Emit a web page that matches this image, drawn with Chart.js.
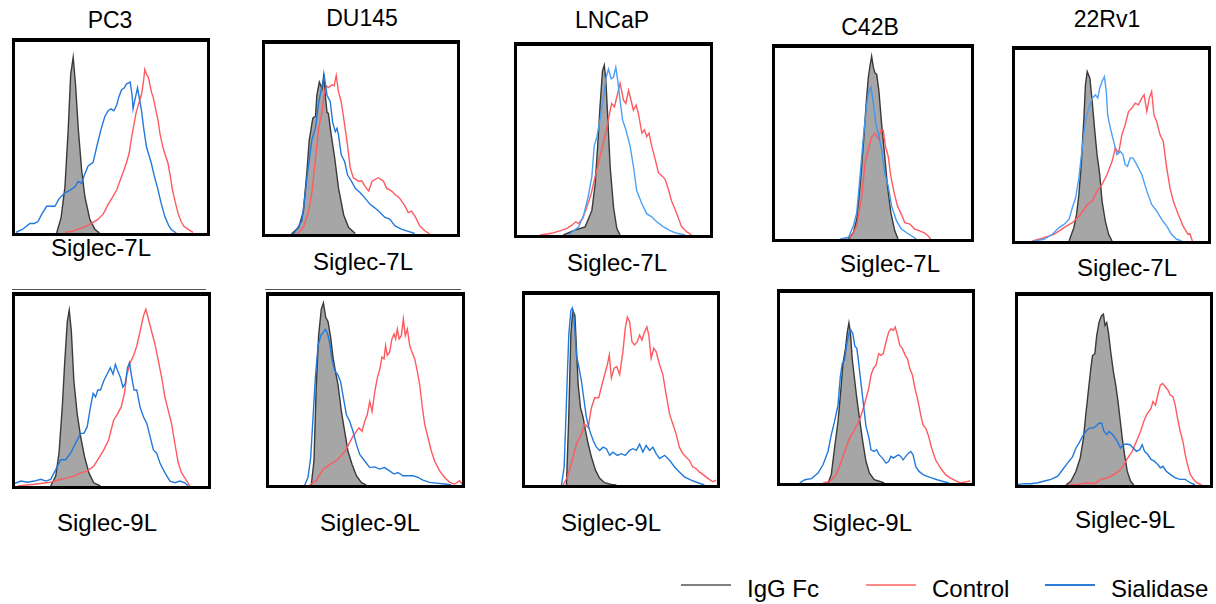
<!DOCTYPE html>
<html>
<head>
<meta charset="utf-8">
<script src="https://cdn.jsdelivr.net/npm/chart.js@4"></script>
<style>
  body { margin: 0; background: #fff; font-family: "Liberation Sans", Arial, sans-serif; }
  #page { position: relative; width: 1216px; height: 604px; overflow: hidden; }
  .box { position: absolute; border: 3px solid #000; border-top-width: 4px; box-sizing: border-box; background: #fff; }
  .box canvas { display: block; }
  .txt { position: absolute; transform: translate(-50%, -50%); white-space: nowrap; color: #000; }
  .title { font-size: 23px; }
  .lab { font-size: 24px; }
  .rule { position: absolute; height: 1px; background: #555; }
  .legline { position: absolute; height: 2px; }
  .legtxt { position: absolute; font-size: 24px; transform: translateY(-50%); }
</style>
</head>
<body>
<div id="page"></div>
<script>
// fluorescence (x, 0-100) / count (y, % of max) pairs
// ---- Siglec-7L row ----
const pc3_7L_igg = [[21.7,0],[24,8],[26,24],[27.7,54],[29,83],[30.3,92],[31.5,78],[33,54],[34.7,33],[36.4,19],[39,7],[41.6,2],[44,0]];
const pc3_7L_ctrl = [[26,0.3],[30,1],[34.7,2.6],[38,4],[43,7],[46,10],[48.5,15],[51,19],[53,22.6],[55.5,29.6],[58,36.5],[59.5,42],[60.7,50],[62,57],[63,62.6],[64.5,68],[66,73],[67,80],[67.6,85.6],[68.5,83],[69.3,82],[70,79],[71,74],[72,71],[73,66],[74.5,59],[75.5,52],[77,45],[78.5,40],[79.7,36.5],[81,29],[82,22.6],[83.5,16],[85,10],[86.5,6],[88,3.5],[90,2],[92.7,0.3]];
const pc3_7L_sial = [[0.5,0.3],[4,2],[7.8,5],[10,5],[12,6],[14,10],[16.5,14],[18,14],[20.8,14],[23,18],[26,21],[28,22],[31,24],[33,27],[34.7,26],[36,30],[38,35],[40.7,37],[43,47],[45,55],[46.8,61],[48.5,64],[50,65],[51.5,64],[53,67],[54,71],[55.5,75],[57,76],[58,78],[60,79],[61,72],[61.5,65],[62.5,70],[63.8,76],[64.5,72],[65.9,64],[67,55],[68.5,45],[71,36.5],[72.5,30],[74.5,22.6],[76,16],[78,8.7],[80,4],[81.5,1.7],[84,0]];

const du145_7L_igg = [[13.8,0],[17.6,3.5],[20,12],[22,35],[23,49],[24.9,61],[26.3,62],[27,73],[28.3,80],[29.7,76.5],[30.6,83.5],[31.4,73],[32.3,64],[33,63.5],[34.5,52],[36.3,40],[38.3,24],[41,10],[43.5,3.5],[47,0.3]];
const du145_7L_ctrl = [[16.8,0],[20,3.5],[22.8,12],[24.5,22.6],[26.3,40],[28,56],[29.7,64.3],[31,74.8],[31.9,78],[33,77],[34.9,78.5],[36,78],[37.1,83.5],[38.3,74.8],[39.7,69.6],[41,60.8],[42.7,48.7],[44.4,34.8],[46,29.6],[48.7,27.8],[50.4,28],[52,25.2],[54,22.6],[55.8,27.8],[59,29.6],[61.7,27.8],[63.4,24],[66,22.6],[67.7,20.8],[70,19],[72.9,14.8],[74.6,11.3],[76.3,12],[78,9.6],[80.6,4.3],[83.2,1.7],[85.8,0]];
const du145_7L_sial = [[15,0],[19.3,7],[22,31],[24.5,50],[26.3,56],[28,69.6],[29.7,78],[30.9,83],[32.3,73],[34,69.6],[35.2,59],[36.6,53.9],[37.5,55.6],[38.3,52],[39.7,41.7],[41.5,38],[43,31],[45,27.8],[47,24],[49.6,21.7],[52,19],[54.7,15.6],[57,13.9],[59.9,11.3],[62.5,8.7],[65,7.8],[67.7,4.3],[71,2.6],[74.6,1.4],[78,0.3]];

const lncap_7L_igg = [[24,0],[30,2.6],[35.3,4.3],[38.8,13],[40.5,27],[41.9,48.7],[43,67.8],[44.3,86.9],[45.2,89.9],[46,82.6],[47,62.6],[48.3,35.6],[50,14.8],[51.7,3.5],[53.4,0]];
const lncap_7L_ctrl = [[12,0],[18,0.9],[23.3,2.6],[25.9,3.5],[28.4,5.2],[30.5,7],[31.9,6],[34,8.7],[36.2,14.8],[38.4,21.7],[40.5,31],[43.1,41.7],[44.8,48.7],[46.6,57.4],[48.3,66],[49.1,69.6],[50.5,67.8],[51.7,73],[53.4,80.3],[55.2,71.3],[56.4,69.6],[57.8,76.5],[59.1,71.3],[60.3,66],[61.7,68.7],[62.9,64.3],[64.7,53.9],[66,55.7],[67.2,52],[68.4,53.9],[69.8,47],[71.6,40],[73.3,33],[75,31.3],[76.7,29.6],[78.4,24.3],[80,18.3],[82.8,11.3],[85.3,4.3],[87.9,1.7],[90.5,0]];
const lncap_7L_sial = [[26.7,0],[32,4.3],[34.5,10.4],[37,20.9],[38.8,31],[40,47],[41.4,52],[43,60.9],[44.8,73],[46.2,83.5],[47.4,87.8],[48.8,82.6],[50,83.5],[51.2,88.7],[52.2,81.7],[53.4,71.3],[54.7,60.9],[56.4,55.7],[58.6,47],[60.3,36.5],[62,23.5],[64.7,16.5],[67.2,11.3],[69.8,9.6],[72.4,7],[75.9,4.3],[79.3,2.3],[82.8,0.9],[87,0]];

const c42b_7L_igg = [[37.5,0],[40,3.4],[41.7,10.3],[43.4,27.6],[45.1,50],[46.5,70.7],[47.6,84.5],[48.6,91.4],[49.3,95.7],[50.2,89.7],[51,87],[51.9,86.2],[53,77.6],[54.4,60.3],[55.7,46.6],[57.4,27.6],[59.1,13.8],[61.1,4.3],[62.8,0]];
const c42b_7L_ctrl = [[35.8,0],[39.2,1.7],[41.7,6.9],[44.3,22.4],[45.9,39.7],[47.6,46.6],[49.3,53.4],[51,55.2],[52.7,52.6],[54,56.9],[55.2,56.9],[56.4,48.3],[57.8,43.1],[59.1,32.8],[60.8,24.1],[62.5,17.2],[64.5,12.9],[66.2,8.6],[68.8,7.8],[71.3,5.2],[73.8,4.3],[76.4,3.1],[78,1.7],[79.4,0]];
const c42b_7L_sial = [[33.3,0],[37.5,0.9],[40,6.9],[41.7,13.8],[43.4,32.8],[45.1,53.4],[46.8,70.7],[47.9,77.6],[49,79.3],[50.2,70.7],[51.5,60.3],[52.7,55.2],[54.4,46.6],[56,34.5],[57.8,27.6],[59.5,17.2],[62,9.5],[64.5,5.2],[67,3.4],[69.6,1.7],[72.1,0]];

const rv1_7L_igg = [[28,0],[30.5,7],[31.9,13.9],[33.1,24.3],[34.3,40],[35.7,64.3],[36.5,81.7],[37.4,88.7],[38.8,85.2],[40,73],[41.2,59.1],[42.5,45.2],[43.9,34.8],[45.1,20.9],[46.8,10.4],[48.5,3.5],[50.3,0]];
const rv1_7L_ctrl = [[9,0],[15.1,1.7],[20.2,3.5],[25.4,7],[29.7,9.6],[34,13.9],[37.4,19.1],[40,20.9],[42.5,26.1],[45.1,29.6],[47.7,34.8],[50.3,41.7],[52,48.7],[53.7,46.1],[55.4,55.7],[57.1,60.9],[58.8,67.8],[60.6,69.6],[62.3,72.2],[64,71.3],[65.7,74.8],[66.9,76.5],[68.3,67.8],[69.6,74.8],[70.8,78.3],[72,66],[73.4,62.6],[75.1,55.7],[76.8,52.2],[78.6,38.3],[80.3,27.8],[82,20.9],[84.6,13.9],[87.1,7.8],[89.7,3.5],[90.6,3.8],[91.9,0]];
const rv1_7L_sial = [[10,0],[15,0.9],[19.4,3.5],[22.8,7],[25.4,8.7],[28,11.3],[29.7,17.4],[31.4,22.6],[33.1,33],[34.8,48.7],[36.5,62.6],[38.2,69.6],[40,74.8],[41.7,76.5],[42.9,74.8],[43.9,80],[45.1,83.5],[46.3,86],[47.3,78.3],[48,66],[49.4,59.1],[51.1,52.2],[52.8,45.2],[54.5,47],[55.9,45.2],[57.1,40],[58.3,39.1],[59.7,43.5],[61.1,43.5],[63.1,40],[65.7,34.8],[68.3,26.1],[70.8,19.1],[73.4,15.7],[76,11.3],[78.6,7.8],[81.1,3.5],[83.7,0.9],[86.3,0]];

// ---- Siglec-9L row ----
const pc3_9L_igg = [[18.5,0],[21.1,5.2],[22.8,17.3],[24.5,41.5],[25.7,64],[27.1,86.5],[28.1,92.6],[29.2,81.3],[30.5,55.4],[32.2,38.1],[34,26],[36,15.6],[38.3,6.9],[40.8,1.7],[44.3,0]];
const pc3_9L_ctrl = [[1.4,0],[10,0.9],[18.5,2],[23.7,3.5],[27.1,4.3],[30.5,5.2],[34,6.9],[37.4,7.8],[40.8,10.4],[43.4,14.7],[46,19],[48.5,24.2],[51.1,34.6],[53.2,38.1],[55,41.5],[56.7,48.8],[58,58.8],[59.7,64.9],[61.4,68.5],[63.1,73.7],[64.8,81.3],[66.6,89.6],[67.8,93.1],[69.1,88],[70.8,81.3],[72.6,74.3],[74.3,65.7],[76,57.1],[77.7,46.7],[79.4,39.8],[81.1,32.9],[82.8,22.5],[84.6,12.1],[86.3,6.9],[88.5,3.5],[90.6,0]];
const pc3_9L_sial = [[0,1.4],[3.1,2.6],[6.5,2],[10,2.6],[13.4,3.5],[16,2.6],[18.5,3.5],[20.2,6.9],[22,10.4],[23.7,13.8],[26.2,13.8],[28.8,17.3],[31.4,22.5],[34,27.7],[35.7,27.7],[37.4,31.1],[39.1,41.5],[40.5,48.8],[41.7,46.9],[42.9,50.5],[44.3,50.5],[46,55.4],[47.7,58.8],[49.4,62.3],[50.8,58.8],[52,64],[53.2,60.6],[54.6,57.1],[55.9,52.1],[57.1,53.8],[58.3,62.3],[59.3,64.9],[60.5,57.1],[61.7,50.5],[63.1,50.5],[64.8,41.5],[66.6,36.3],[68.3,32.9],[70,26],[71.7,19],[73.4,17.3],[75.1,12.1],[77.7,6.9],[80.3,2.6],[82.8,1.7],[85.4,2.6],[88,1.7],[89.7,0]];

const du145_9L_igg = [[21.9,0],[23.3,12.7],[24.5,52.9],[25.7,79],[27.1,93],[28.2,96.3],[29.4,88.7],[30.6,86.4],[32,77.7],[33.2,67.2],[34.4,60.2],[35.8,52.9],[37.5,38.9],[39.2,28.4],[40.9,18],[43,11],[45.3,4.9],[47.8,1.4],[50.4,0]];
const du145_9L_ctrl = [[21,0],[24.5,2.3],[28,8.4],[30.6,10.1],[33.2,11.9],[35.8,13.6],[37.8,16.2],[39.6,18],[41.3,21.5],[43.5,25.8],[45.3,28.4],[46.6,30.2],[48.2,28.4],[49.6,33.7],[50.9,37.2],[52.2,44.2],[53.4,38.9],[54.8,49.4],[56.1,56.4],[57.5,61.6],[58.5,67.7],[59.6,66.7],[60.4,73.8],[61.3,68.6],[62.5,70.3],[63.7,77.3],[64.8,79.9],[65.6,77.3],[66.5,82.5],[67.4,77.3],[68.6,79],[69.6,87.8],[70.6,79],[71.7,82.5],[72.9,73.8],[74.1,70.3],[75.5,66.7],[76.9,59.9],[78.1,52.9],[79.5,40.7],[80.7,31.9],[82.4,25],[84.1,18],[85.8,12.7],[88.4,7.5],[91,4],[93.6,1.4],[96.2,0.5],[98.8,2.3],[100,0.5]];
const du145_9L_sial = [[18.5,0],[20.2,4],[21.6,14.5],[22.8,35.4],[24,56.4],[25.4,73.8],[26.8,79],[28,80.6],[29.2,82.4],[30.2,80.6],[31.4,75.4],[32.6,66.7],[34,60.6],[35.8,58.1],[37.1,54.6],[38.3,47.6],[40.1,37.2],[41.8,33.7],[43.5,28.4],[45.3,21.5],[47,16.2],[49.6,12.7],[52.2,9.2],[54.8,9.6],[57.3,8.4],[59.9,9.2],[62.5,7.5],[64.8,5.8],[66.8,6.6],[69.4,4.9],[72,4.9],[74.6,4.9],[77.2,4],[79.8,2.6],[83.2,1.4],[86.7,1],[91,0.5],[94.5,0]];

const lncap_9L_igg = [[21.6,0],[22.8,36.4],[23.9,79.7],[24.9,91.9],[26,89.3],[26.8,71.6],[27.7,52.9],[28.9,40.7],[30.3,35.5],[31.5,28.6],[32.9,21.7],[34.6,14.7],[36.7,7.8],[38.9,3.5],[41.5,1.2],[45,0.3],[47.6,0]];
const lncap_9L_ctrl = [[19.9,0],[22.1,4.3],[24.2,11.3],[26.8,21.7],[29.4,26.9],[31.1,32.1],[32.9,30.3],[34.6,40.7],[36.3,45.9],[38.4,45.9],[40.1,52.9],[41.5,58.1],[42.9,63.3],[43.9,68.5],[45,56.3],[46.4,61.5],[47.8,62.4],[49.3,58.1],[51,70.2],[52.2,82.3],[53.3,88.4],[54.5,85.8],[55.7,75.4],[57.1,73.7],[58.5,75.4],[59.7,78.9],[60.9,76.3],[62.3,80.6],[63.5,83.2],[64.5,78.9],[65.7,66.7],[67.1,72],[68.3,70.2],[70.1,63.3],[71.8,58.1],[73.5,47.7],[75.3,37.3],[77,32.1],[78.7,26.9],[80.4,19.9],[82.2,16.5],[83.9,14.7],[85.6,13],[87.4,9.5],[89.1,8.7],[90.8,6.9],[93.1,5.2],[95.2,3.5],[97.8,1.7],[99.5,2.6]];
const lncap_9L_sial = [[19,0],[20.4,9.5],[21.6,44.2],[22.8,78.9],[23.9,91.9],[24.7,93.2],[25.6,87.5],[26.8,68.1],[28,62.4],[29.4,54.6],[30.8,44.2],[32,35.5],[33.7,28.6],[35.5,23.4],[37.2,19.9],[38.9,18.2],[40.7,19.9],[42.4,19.1],[44.1,15.6],[45.8,17.3],[48.1,15.6],[50.2,16.5],[52.2,15.6],[54.5,18.2],[56.2,19.1],[58,18.2],[59.7,21.5],[61.4,17.3],[63.1,20.8],[64.9,18.2],[66.6,19.9],[68.3,16.5],[70.1,13.9],[72.7,15.6],[75.3,13],[77.9,9.5],[80.4,6.9],[83,4.3],[86.5,2.6],[90,1.2],[93.4,0]];

const c42b_9L_igg = [[25,0],[26.7,4.4],[28.4,18.3],[30.2,32.3],[31.6,48],[32.8,62.8],[34.1,70.7],[35,79],[35.9,84.3],[36.7,79],[37.6,65.4],[38.8,55],[40,44.5],[41.4,34],[43.1,21.8],[44.8,11.3],[46.6,5.2],[49.1,1.7],[51.7,0.9],[54.3,0]];
const c42b_9L_ctrl = [[22.4,0],[25.9,0.9],[29.3,4.4],[31.9,11.3],[34.1,17.5],[36.2,23.6],[38.3,27.1],[40,30.5],[41.7,34],[43.4,39.3],[44.8,44.5],[46.2,49.7],[47.4,56.7],[48.6,60.2],[50,62],[51.4,68.1],[52.6,67.2],[53.8,68.1],[55.2,74.2],[56.6,79.4],[57.8,81.2],[59,80.3],[60,82.1],[61.2,77.7],[62.4,72.4],[63.8,70.7],[65.2,67.2],[66.4,65.4],[67.6,60.2],[69,56.7],[70.3,49.7],[71.6,44.5],[73.3,35.8],[74.5,30.5],[75.9,28.8],[77.2,25.3],[79,18.3],[81,12.2],[83.6,7.9],[86.2,4.4],[88.8,2.6],[91.4,1.2],[94,0],[96.6,0.5],[99.1,1.2]];
const c42b_9L_sial = [[10.3,0],[12.9,1.7],[16.4,2.3],[19.8,5.2],[22.4,9.6],[25,16.6],[26.7,25.3],[28.4,32.3],[30.2,41],[31.4,55.8],[32.4,62.8],[33.6,64.6],[34.8,73.3],[35.9,78.7],[36.9,80.5],[37.9,78.7],[39,71.9],[40,71],[41,63.1],[42.2,52.4],[43.4,41.9],[44.8,29.7],[46.2,24.4],[47.4,17.5],[49.1,16.6],[50.3,17.5],[51.7,14.8],[53.4,13.1],[55.2,10.5],[56.6,11.3],[57.8,14],[59,13.1],[60.3,14],[61.7,14.8],[62.9,14],[64.1,12.2],[65.5,14],[66.9,15.7],[68.1,16.6],[69.3,14.8],[70.7,8.7],[72.4,6.1],[74.5,4.4],[76.7,3.5],[79.3,2.6],[81.9,1.7],[84.5,0.9],[87.9,0]];

const rv1_9L_igg = [[25,0],[27.6,2.1],[30.2,7.3],[32.4,14.3],[34.1,24.8],[35.3,37.1],[36.6,49.3],[37.9,61.5],[38.8,68.5],[40,69.4],[41,79],[42.2,86],[43.4,89.5],[44.5,90.4],[45.3,84.4],[46.2,86],[47.1,80.8],[48.3,70.3],[49.7,59.8],[50.9,52.8],[52.1,44.1],[53.1,35.3],[54.3,24.8],[55.5,16.1],[56.9,7.3],[58.6,2.1],[60.3,0]];
const rv1_9L_ctrl = [[25.9,0],[31,0.3],[36.2,1.2],[39.7,0.7],[43.1,3],[46.6,3.8],[50,5.6],[52.6,7.3],[55.2,10.8],[57.2,14.3],[59.5,17.8],[61.7,23.1],[63.8,28.3],[65.5,33.6],[66.9,37.1],[68.1,38.8],[69.3,40.6],[70.3,44.1],[71.6,42.3],[72.8,47.6],[74.1,52.8],[75.3,53.7],[76.7,52],[78.1,50.2],[79.3,47.6],[80.7,46.7],[81.9,42.3],[83.1,35.3],[84.5,28.3],[85.9,23.1],[87.1,16.1],[88.3,10.8],[89.7,5.6],[91.4,3],[93.1,1.2],[95.7,0]];
const rv1_9L_sial = [[0,0.3],[3.4,0.7],[6.9,0.7],[10.3,1.2],[13.8,2.1],[17.2,3],[20.7,4.7],[23.3,8.2],[25.9,11.7],[28.4,14.9],[30.2,19.6],[31.9,22.4],[33.6,25.7],[35.3,28.3],[37.1,30.1],[38.8,30.1],[40.5,31],[42.2,32.7],[43.6,32.7],[44.8,28.3],[46.2,26.6],[47.4,28.3],[48.6,27.4],[50,25.7],[51.7,23.1],[53.4,19.6],[54.8,21.3],[56.6,21.7],[58.3,21.3],[60,19.6],[61.7,17.8],[63.4,18.7],[64.7,21.3],[65.9,17.8],[67.6,16.1],[69.3,13.5],[71,12.6],[72.8,10.8],[74.1,9.1],[75.5,9.9],[77.2,7.3],[79.3,5.6],[81.9,3.8],[84.5,3],[87.1,3],[89.7,1.2],[92.2,0]];

const cellLines = ['PC3', 'DU145', 'LNCaP', 'C42B', '22Rv1'];
const seriesNames = ['IgG Fc', 'Control', 'Sialidase'];

// layout (outer box left, top, width, height) + label centres
const panels = [
  { igg: pc3_7L_igg, ctrl: pc3_7L_ctrl, sial: pc3_7L_sial, box: [12, 38, 198, 198], blue: '#2279db', title: [110, 20], lab: ['Siglec-7L', 101, 248] },
  { igg: du145_7L_igg, ctrl: du145_7L_ctrl, sial: du145_7L_sial, box: [262, 40, 198, 197], blue: '#2279db', title: [362, 18], lab: ['Siglec-7L', 363, 262] },
  { igg: lncap_7L_igg, ctrl: lncap_7L_ctrl, sial: lncap_7L_sial, box: [514, 42, 199, 196], blue: '#4ca0f5', title: [612, 20], lab: ['Siglec-7L', 617, 263] },
  { igg: c42b_7L_igg, ctrl: c42b_7L_ctrl, sial: c42b_7L_sial, box: [772, 44, 202, 198], blue: '#3f97f0', title: [870, 27], lab: ['Siglec-7L', 890, 264] },
  { igg: rv1_7L_igg, ctrl: rv1_7L_ctrl, sial: rv1_7L_sial, box: [1012, 46, 199, 198], blue: '#4ca0f5', title: [1107, 19], lab: ['Siglec-7L', 1127, 268] },
  { igg: pc3_9L_igg, ctrl: pc3_9L_ctrl, sial: pc3_9L_sial, box: [12, 292, 199, 197], blue: '#2279db', lab: ['Siglec-9L', 107, 523] },
  { igg: du145_9L_igg, ctrl: du145_9L_ctrl, sial: du145_9L_sial, box: [266, 292, 199, 196], blue: '#2279db', lab: ['Siglec-9L', 370, 523] },
  { igg: lncap_9L_igg, ctrl: lncap_9L_ctrl, sial: lncap_9L_sial, box: [522, 291, 198, 197], blue: '#2279db', lab: ['Siglec-9L', 611, 523] },
  { igg: c42b_9L_igg, ctrl: c42b_9L_ctrl, sial: c42b_9L_sial, box: [777, 289, 198, 197], blue: '#2279db', lab: ['Siglec-9L', 862, 523] },
  { igg: rv1_9L_igg, ctrl: rv1_9L_ctrl, sial: rv1_9L_sial, box: [1015, 292, 198, 196], blue: '#2279db', lab: ['Siglec-9L', 1125, 520] }
];

const page = document.getElementById('page');

function addText(cls, text, x, y) {
  const d = document.createElement('div');
  d.className = 'txt ' + cls;
  d.textContent = text;
  d.style.left = x + 'px';
  d.style.top = y + 'px';
  page.appendChild(d);
}

function pts(arr) {
  return arr.map(p => ({ x: p[0], y: p[1] }));
}

// thin rules over the first two Siglec-9L panels
[[12, 289, 194], [265, 289, 196]].forEach(r => {
  const d = document.createElement('div');
  d.className = 'rule';
  d.style.left = r[0] + 'px'; d.style.top = r[1] + 'px'; d.style.width = r[2] + 'px';
  page.appendChild(d);
});

panels.forEach(function(p, i) {
  const b = document.createElement('div');
  b.className = 'box';
  b.style.left = p.box[0] + 'px';
  b.style.top = p.box[1] + 'px';
  b.style.width = p.box[2] + 'px';
  b.style.height = p.box[3] + 'px';
  const cv = document.createElement('canvas');
  cv.width = p.box[2] - 6;
  cv.height = p.box[3] - 7;
  b.appendChild(cv);
  page.appendChild(b);

  if (i < 5) addText('title', cellLines[i], p.title[0], p.title[1]);
  addText('lab', p.lab[0], p.lab[1], p.lab[2]);

  new Chart(cv, {
    type: 'line',
    data: {
      datasets: [
        { label: seriesNames[2], data: pts(p.sial), borderColor: p.blue, borderWidth: 1.4, order: 1 },
        { label: seriesNames[1], data: pts(p.ctrl), borderColor: '#ff5a5f', borderWidth: 1.4, order: 2 },
        { label: seriesNames[0], data: pts(p.igg), borderColor: '#3a3a3a', borderWidth: 1.4,
          fill: 'origin', backgroundColor: '#a6a6a6', order: 3 }
      ]
    },
    options: {
      responsive: false,
      animation: false,
      layout: { padding: 0 },
      elements: { point: { radius: 0 }, line: { tension: 0 } },
      plugins: { legend: { display: false }, tooltip: { enabled: false } },
      scales: {
        x: { type: 'linear', min: 0, max: 100, display: false },
        y: { min: 0, max: 100, display: false }
      }
    }
  });
});

// legend
const legend = [
  { name: seriesNames[0], color: '#808080', line: 681, text: 747 },
  { name: seriesNames[1], color: '#ff8a8a', line: 866, text: 932 },
  { name: seriesNames[2], color: '#2b7cd6', line: 1045, text: 1111 }
];
legend.forEach(l => {
  const ln = document.createElement('div');
  ln.className = 'legline';
  ln.style.left = l.line + 'px'; ln.style.top = '584px'; ln.style.width = '50px';
  ln.style.background = l.color;
  page.appendChild(ln);
  const t = document.createElement('div');
  t.className = 'legtxt';
  t.textContent = l.name;
  t.style.left = l.text + 'px'; t.style.top = '589px';
  page.appendChild(t);
});
</script>
</body>
</html>
